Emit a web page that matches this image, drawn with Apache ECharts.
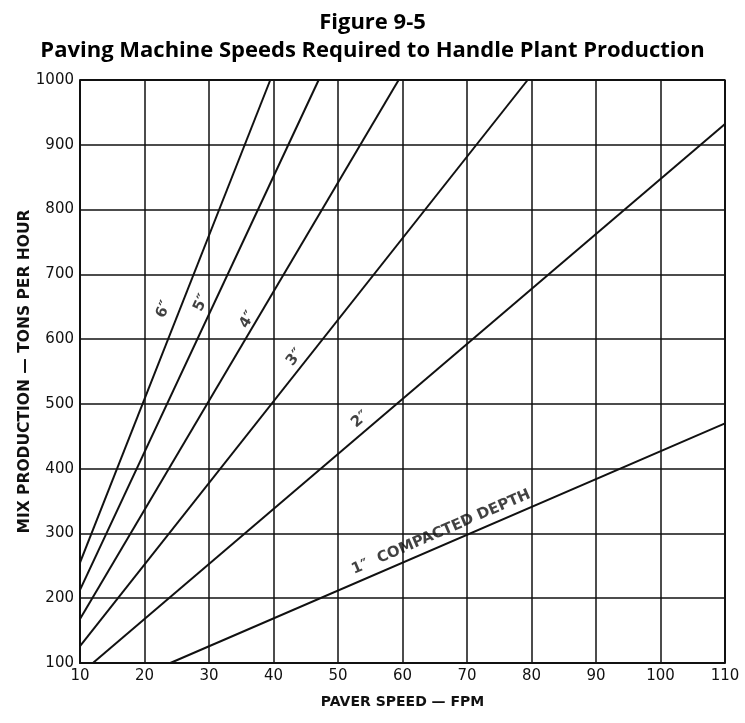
<!DOCTYPE html>
<html>
<head>
<meta charset="utf-8">
<script src="https://cdn.jsdelivr.net/npm/echarts@6/dist/echarts.min.js"></script>
<style>
  html, body { margin: 0; padding: 0; background: #ffffff; }
  #chart { width: 745px; height: 723px; }
</style>
</head>
<body>
<div id="chart"></div>
<script>
// Paver speed (feet per minute) against mix production (tons per hour)
const titleLines = ['Figure 9-5', 'Paving Machine Speeds Required to Handle Plant Production'];
const xAxisTitle = 'PAVER SPEED — FPM';
const yAxisTitle = 'MIX PRODUCTION — TONS PER HOUR';

// One straight line per compacted depth: [speed, production] at each end
const depthNames = ['1″', '2″', '3″', '4″', '5″', '6″'];
const depth1 = [[24, 100], [110, 470]];
const depth2 = [[12, 100], [110, 932]];
const depth3 = [[10, 126], [79.4, 1000]];
const depth4 = [[10, 168], [59.4, 1000]];
const depth5 = [[10, 213], [47, 1000]];
const depth6 = [[10, 255], [39.5, 1000]];
const depthLines = [depth1, depth2, depth3, depth4, depth5, depth6];

// Where each depth label sits, in speed / production units
const labelTexts = ['1″  COMPACTED DEPTH', '2″', '3″', '4″', '5″', '6″'];
const labelSpeed = [66, 53.4, 43.3, 36.0, 28.8, 23.0];
const labelProduction = [302, 476, 572, 630, 656, 646];

const ink = '#111111';
const chartFont = '"DejaVu Sans", sans-serif';
const titleFont = '"Open Sans", "Noto Sans", sans-serif';

const chart = echarts.init(document.getElementById('chart'), null, { renderer: 'canvas' });

function buildOption(angles) {
  const lineSeries = depthLines.map((pts, i) => ({
    type: 'line',
    name: depthNames[i],
    data: pts,
    symbol: 'none',
    lineStyle: { color: ink, width: 2 },
    silent: true,
    z: 3
  }));
  const labelSeries = {
    type: 'scatter',
    symbolSize: 0,
    silent: true,
    z: 4,
    data: labelTexts.map((t, i) => ({
      value: [labelSpeed[i], labelProduction[i]],
      label: {
        show: true,
        position: 'inside',
        formatter: t,
        rotate: angles ? angles[i] : 0,
        color: ink,
        fontFamily: chartFont,
        fontSize: 15,
        fontWeight: 'bold'
      }
    }))
  };
  return {
    backgroundColor: '#ffffff',
    animation: false,
    title: [
      { text: titleLines[0], left: 'center', top: 7,
        textStyle: { fontFamily: titleFont, fontWeight: 'bold', fontSize: 22, color: '#000' } },
      { text: titleLines[1], left: 'center', top: 35,
        textStyle: { fontFamily: titleFont, fontWeight: 'bold', fontSize: 22, color: '#000' } }
    ],
    grid: { left: 80, right: 20, top: 80, bottom: 60, show: false },
    xAxis: {
      type: 'value', min: 10, max: 110, interval: 10,
      name: xAxisTitle, nameLocation: 'middle', nameGap: 32, nameMoveOverlap: false,
      nameTextStyle: { fontFamily: chartFont, fontWeight: 'bold', fontSize: 14, color: ink },
      axisLine: { show: true, lineStyle: { color: ink, width: 2 } },
      axisTick: { show: false },
      axisLabel: { fontFamily: chartFont, fontSize: 15, color: ink, margin: 6 },
      splitLine: { show: true, lineStyle: { color: ink, width: 1.5 } }
    },
    yAxis: {
      type: 'value', min: 100, max: 1000, interval: 100,
      name: yAxisTitle, nameLocation: 'middle', nameGap: 47, nameMoveOverlap: false,
      nameTextStyle: { fontFamily: chartFont, fontWeight: 'bold', fontSize: 15.5, color: ink },
      axisLine: { show: true, lineStyle: { color: ink, width: 2 } },
      axisTick: { show: false },
      axisLabel: { fontFamily: chartFont, fontSize: 15, color: ink, margin: 6,
        formatter: v => String(v) },
      splitLine: { show: true, lineStyle: { color: ink, width: 1.5 } }
    },
    series: lineSeries.concat([labelSeries, {
      // right and top frame of the plot
      type: 'line', data: [[110, 100], [110, 1000], [10, 1000]],
      symbol: 'none', silent: true, lineStyle: { color: ink, width: 2 }, z: 2
    }])
  };
}

chart.setOption(buildOption(null));
// Tilt each label to follow the on-screen slope of its line
const angles = depthLines.map(pts => {
  const a = chart.convertToPixel({ gridIndex: 0 }, pts[0]);
  const b = chart.convertToPixel({ gridIndex: 0 }, pts[1]);
  return Math.atan2(a[1] - b[1], b[0] - a[0]) * 180 / Math.PI;
});
chart.setOption(buildOption(angles));
</script>
</body>
</html>
